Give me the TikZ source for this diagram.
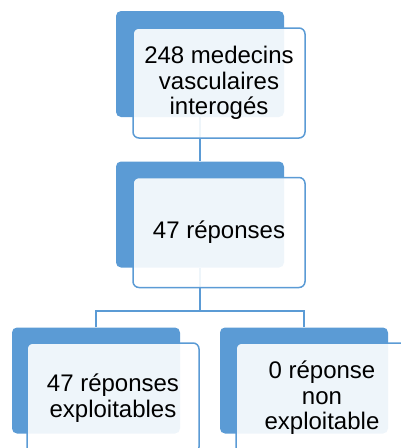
\documentclass[tikz,border=0pt]{standalone}
\usepackage{fontspec}
\setmainfont{Liberation Sans}
\definecolor{boxblue}{RGB}{91,155,213}
\begin{document}
\begin{tikzpicture}[x=1pt,y=-1pt,
  backbox/.style={draw=none,fill=boxblue,rounded corners=5pt,minimum width=168pt,minimum height=106pt,inner sep=0pt},
  frontbox/.style={draw=boxblue,line width=1.5pt,fill=white,fill opacity=0.9,text opacity=1,rounded corners=6pt,minimum width=172pt,minimum height=110pt,inner sep=0pt,align=center,font=\fontsize{24}{25.5}\selectfont},
  link/.style={draw=boxblue,line width=1.5pt}]
\useasboundingbox (0,0) rectangle (401,448);
\node[backbox] (b1) at (200,64) {};
\node[backbox] (b2) at (200,214.5) {};
\node[backbox] (b3) at (96,380.5) {};
\node[backbox] (b4) at (304,380.5) {};
\coordinate (j) at (200,311);
\draw[link] (b1.south) -- (b2.north);
\draw[link] (b2.south) -- (j);
\draw[link] (b3.north) |- (j) -| (b4.north);
\node[frontbox] (f1) at (219,83) {248 medecins\\vasculaires\\interogés};
\node[frontbox] (f2) at (219,232.5) {47 réponses};
\node[frontbox] (f3) at (113,398) {47 réponses\\exploitables};
\node[frontbox] (f4) at (322,398) {0 réponse\\non\\exploitable};
\end{tikzpicture}
\end{document}
